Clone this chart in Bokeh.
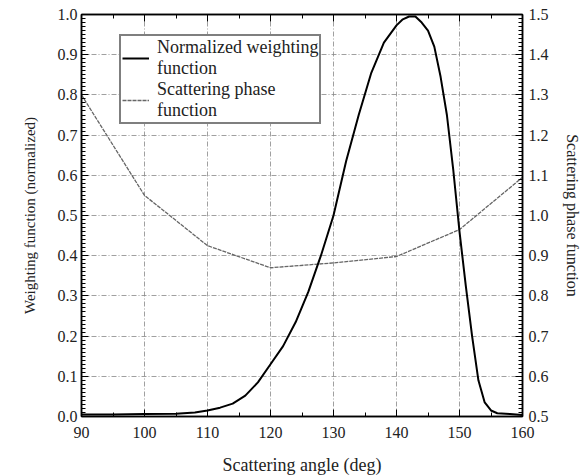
from bokeh.plotting import figure
from bokeh.models import (Range1d, LinearAxis, Legend, LegendItem, FixedTicker,
                          PrintfTickFormatter, CustomJSTickFormatter)
from bokeh.embed import file_html
from bokeh.resources import INLINE

# Weighting function (normalized), left axis
w_angle = [90, 95, 100, 105, 108, 110, 112, 114, 116, 118, 120, 122, 124, 126, 128,
           130, 132, 134, 136, 138, 140, 141, 142, 143, 144, 145, 146, 147, 148, 149,
           150, 151, 152, 153, 154, 155, 156, 158, 160]
w_value = [0.005, 0.005, 0.006, 0.007, 0.01, 0.015, 0.022, 0.032, 0.052, 0.085, 0.13,
           0.175, 0.235, 0.31, 0.40, 0.50, 0.635, 0.75, 0.855, 0.93, 0.973, 0.988,
           0.995, 0.995, 0.98, 0.96, 0.92, 0.845, 0.75, 0.615, 0.46, 0.325, 0.2,
           0.09, 0.035, 0.015, 0.008, 0.006, 0.004]

# Scattering phase function, right axis
p_angle = [90, 100, 110, 120, 130, 140, 150, 160]
p_value = [1.30, 1.05, 0.925, 0.87, 0.882, 0.898, 0.965, 1.095]

x_ticks = [90, 100, 110, 120, 130, 140, 150, 160]
y_ticks = [0.0, 0.1, 0.2, 0.3, 0.4, 0.5, 0.6, 0.7, 0.8, 0.9, 1.0]
y2_ticks = [0.5, 0.6, 0.7, 0.8, 0.9, 1.0, 1.1, 1.2, 1.3, 1.4, 1.5]

FONT = "Liberation Serif"
TXT = "#222222"

p = figure(frame_width=441, frame_height=402, output_backend="svg",
           toolbar_location=None, x_range=Range1d(90, 160), y_range=Range1d(0, 1.0),
           min_border_left=81, min_border_top=14, min_border_bottom=60,
           min_border_right=62, background_fill_color="white")
p.extra_y_ranges = {"phase": Range1d(0.5, 1.5)}

p.outline_line_color = "black"
p.outline_line_width = 1.5

def style_axis(ax):
    ax.major_tick_in = 7
    ax.major_tick_out = 0
    ax.minor_tick_in = 4
    ax.minor_tick_out = 0
    ax.axis_line_color = "black"
    ax.axis_line_width = 1.5
    ax.major_tick_line_color = "black"
    ax.minor_tick_line_color = "black"
    ax.major_label_text_font = FONT
    ax.major_label_text_font_size = "16px"
    ax.major_label_text_color = TXT
    ax.axis_label_text_font = FONT
    ax.axis_label_text_font_style = "normal"
    ax.axis_label_text_color = TXT

xa = p.xaxis[0]
xa.ticker = FixedTicker(ticks=x_ticks, minor_ticks=list(range(90, 161, 5)))
xa.axis_label = "Scattering angle (deg)"
style_axis(xa)
xa.axis_label_text_font_size = "18px"
xa.major_label_standoff = 10
xa.axis_label_standoff = 14

ya = p.yaxis[0]
ya.ticker = FixedTicker(ticks=y_ticks, minor_ticks=[i / 100 for i in range(101)])
ya.formatter = PrintfTickFormatter(format="%.1f")
ya.axis_label = "Weighting function (normalized)"
style_axis(ya)
ya.axis_label_text_font_size = "15px"
ya.major_label_standoff = 4
ya.axis_label_standoff = 17

top = LinearAxis(ticker=FixedTicker(ticks=x_ticks, minor_ticks=list(range(90, 161, 5))),
                 formatter=CustomJSTickFormatter(code="return ''"))
style_axis(top)
top.major_label_standoff = 0
p.add_layout(top, "above")

right = LinearAxis(y_range_name="phase",
                   ticker=FixedTicker(ticks=y2_ticks, minor_ticks=[0.5 + i / 100 for i in range(101)]),
                   formatter=PrintfTickFormatter(format="%.1f"),
                   axis_label="Scattering phase function")
style_axis(right)
right.axis_label_text_font_size = "16px"
right.major_label_standoff = 6
right.axis_label_standoff = 12
p.add_layout(right, "right")

p.xgrid.ticker = FixedTicker(ticks=x_ticks)
p.ygrid.ticker = FixedTicker(ticks=y_ticks)
for g in (p.xgrid[0], p.ygrid[0]):
    g.grid_line_color = "#888888"
    g.grid_line_dash = "5 2 1 2"
    g.grid_line_width = 0.8

r_phase = p.line(p_angle, p_value, y_range_name="phase", line_color="#666666",
                 line_width=1.3, line_dash="4 1")
r_w = p.line(w_angle, w_value, line_color="black", line_width=2)

legend = Legend(items=[LegendItem(label="Normalized weighting\nfunction", renderers=[r_w]),
                       LegendItem(label="Scattering phase\nfunction", renderers=[r_phase])],
                location=(38, 292))
legend.label_text_font = FONT
legend.label_text_font_size = "18px"
legend.label_text_color = TXT
legend.label_text_line_height = 0.9
legend.border_line_color = "black"
legend.border_line_width = 2
legend.background_fill_alpha = 1.0
legend.glyph_width = 27
legend.padding = 1
legend.spacing = 0
legend.margin = 0
legend.label_standoff = 8
legend.label_height = 20
p.add_layout(legend, "center")

open("out.html", "w").write(file_html(p, INLINE))
